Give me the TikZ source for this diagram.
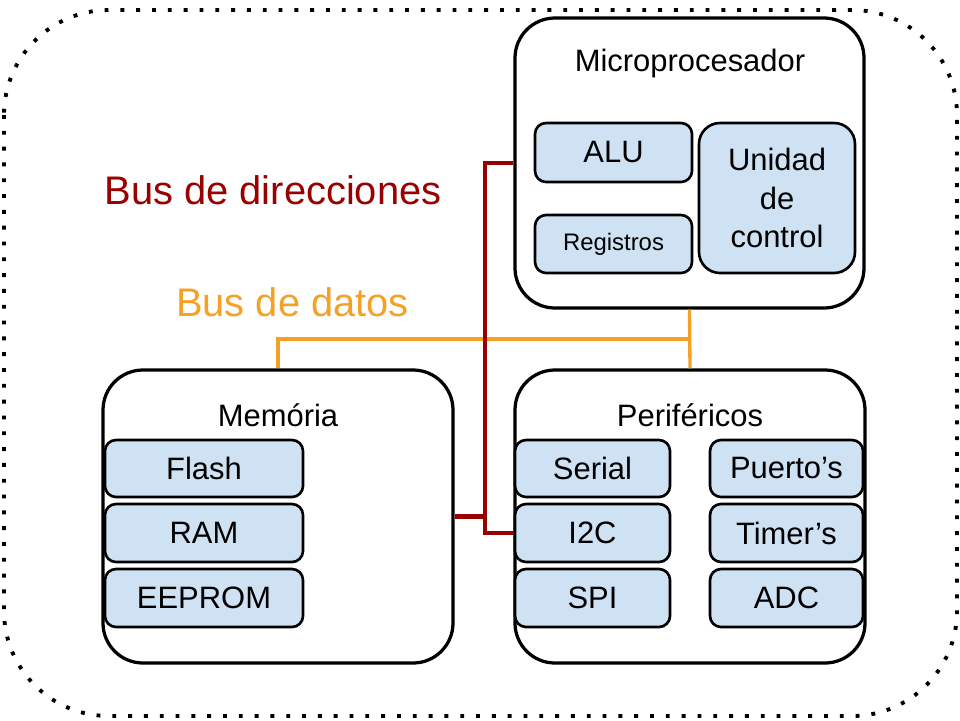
\documentclass[tikz,border=0pt]{standalone}
\usepackage{fontspec}
\setmainfont{Liberation Sans}
\definecolor{boxblue}{HTML}{CFE2F3}
\definecolor{busred}{HTML}{990000}
\definecolor{busorange}{HTML}{F4A126}
\tikzset{
  outerbox/.style={draw=black, line width=1.85pt, rounded corners=0.8cm, inner sep=0pt},
  innerbox/.style={draw=black, fill=boxblue, line width=1.5pt, rounded corners=0.22cm, inner sep=0pt, font=\fontsize{17.6}{21.8}\selectfont, align=center},
  titletext/.style={inner sep=0pt, font=\fontsize{17.6}{21}\selectfont},
  redbus/.style={draw=busred, line width=2.3pt},
  databus/.style={draw=busorange, line width=1.9pt},
  buslabel/.style={inner sep=0pt, font=\fontsize{22.7}{26}\selectfont}
}
\begin{document}
\begin{tikzpicture}
\useasboundingbox (0,0) rectangle (19.2,-14.4);
% outer dotted frame
\draw[line width=2.2pt, dash pattern=on 2.2pt off 6.8pt, rounded corners=2.1cm] (0.08,-0.2) rectangle (19.14,-14.32);

% main boxes
\node[outerbox, minimum width=6.98cm, minimum height=5.8cm] (micro) at (13.79,-3.26) {};
\node[outerbox, minimum width=7.0cm, minimum height=5.86cm] (mem) at (5.56,-10.33) {};
\node[outerbox, minimum width=7.0cm, minimum height=5.86cm] (periph) at (13.8,-10.33) {};

% titles
\node[titletext] (microT) at (13.8,-1.28) {Microprocesador};
\node[titletext] (memT) at (5.56,-8.3) {Memória};
\node[titletext] (periphT) at (13.8,-8.3) {Periféricos};

% microprocessor inner boxes
\node[innerbox, minimum width=3.14cm, minimum height=1.18cm] (alu) at (12.27,-3.05) {ALU};
\node[innerbox, minimum width=3.14cm, minimum height=1.16cm, font=\fontsize{13.6}{16}\selectfont] (reg) at (12.27,-4.88) {Registros};
\node[innerbox, minimum width=3.12cm, minimum height=3.0cm, rounded corners=0.42cm] (uc) at (15.54,-3.96) {Unidad\\de\\control};

% memory inner boxes
\node[innerbox, minimum width=3.96cm, minimum height=1.14cm] (flash) at (4.08,-9.37) {Flash};
\node[innerbox, minimum width=3.96cm, minimum height=1.16cm] (ram) at (4.08,-10.66) {RAM};
\node[innerbox, minimum width=3.96cm, minimum height=1.16cm] (eeprom) at (4.08,-11.96) {EEPROM};

% peripheral inner boxes
\node[innerbox, minimum width=3.1cm, minimum height=1.14cm] (serial) at (11.85,-9.37) {Serial};
\node[innerbox, minimum width=3.1cm, minimum height=1.16cm] (i2c) at (11.85,-10.66) {I2C};
\node[innerbox, minimum width=3.1cm, minimum height=1.16cm] (spi) at (11.85,-11.96) {SPI};
\node[innerbox, minimum width=3.06cm, minimum height=1.14cm] (puertos) at (15.73,-9.37) {Puerto’s};
\node[innerbox, minimum width=3.06cm, minimum height=1.16cm] (timers) at (15.73,-10.66) {Timer’s};
\node[innerbox, minimum width=3.06cm, minimum height=1.16cm] (adc) at (15.73,-11.96) {ADC};

% bus labels
\node[buslabel, text=busred] (addrL) at (5.46,-3.8) {Bus de direcciones};
\node[buslabel, text=busorange] (dataL) at (5.85,-6.05) {Bus de datos};

% data bus
\coordinate (dj) at (micro.south |- 0,-6.78);
\draw[databus] (micro.south) -- (periph.north);
\draw[databus] (mem.north) |- (dj);

% address bus
\coordinate (ax) at (9.7,0);
\draw[redbus] (micro.west) -| (ax |- i2c.west) -- (i2c.west);
\draw[redbus] (mem.east) -- (ax |- mem.east);
\end{tikzpicture}
\end{document}
